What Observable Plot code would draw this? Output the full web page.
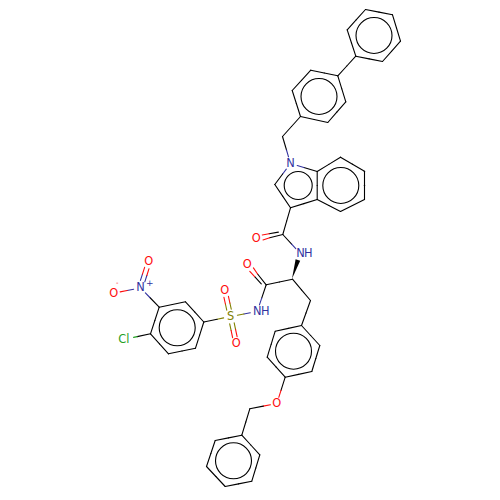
<!DOCTYPE html>
<html>
<head>
<meta charset="utf-8">
<script src="https://cdn.jsdelivr.net/npm/d3@7"></script>
<script src="https://cdn.jsdelivr.net/npm/@observablehq/plot@0.6"></script>
<style>html,body{margin:0;padding:0;background:#fff}svg{display:block}</style>
</head>
<body>
<div id="chart"></div>
<script>
// atom: [id, element, x, y]
const atoms = [
["a1","C",365,9],["a2","C",392,14.3],["a3","C",400,40.7],["a4","C",382,61],["a5","C",355.3,55.7],["a6","C",346.7,29.3],
["b1","C",310.3,69.7],["b2","C",337.3,75.3],["b3","C",345.3,101.3],["b4","C",327.3,122],["b5","C",300,116],["b6","C",291.7,90],
["ch2a","C",282,136],["n1","N",290,163],["c2","C",274.3,184],["c3","C",290,207.3],["c3a","C",316.7,199],["c7a","C",316.7,171],
["c7","C",340,156.7],["c6","C",364,170.7],["c5","C",364,199],["c4","C",340,211],
["cam","C",282.3,234],["oam","O",255.7,238],["nam","N",300,253.3],["ca","C",292,278.7],["cco","C",265.7,284.3],["oco","O",246.7,264.3],
["ch2b","C",310,300],["nsu","N",256.7,311],["s","S",230,316],["os1","O",224.3,290],["os2","O",235.7,343],
["d1","C",203.3,321.5],["d2","C",185,301.3],["d3","C",158.7,306.7],["d4","C",150,333.3],["d5","C",168,353.3],["d6","C",195,347.7],
["nno","N",140,287.3],["ono1","O",148.3,261.3],["ono2","O",113.3,292.7],["cl","Cl",123.3,339],
["e1","C",301,325],["e2","C",319.3,345],["e3","C",311.3,371],["e4","C",284.7,376.7],["e5","C",266.7,356.7],["e6","C",274.7,330.7],
["oet","O",276.3,403],["ch2c","C",249.3,408.3],
["f1","C",241.3,434.7],["f2","C",259.3,454.3],["f3","C",251.3,480.7],["f4","C",224.7,486],["f5","C",206,466],["f6","C",214.7,440]
];
const singleBonds = [
["a1","a2"],["a2","a3"],["a3","a4"],["a4","a5"],["a5","a6"],["a6","a1"],["a5","b2"],
["b1","b2"],["b2","b3"],["b3","b4"],["b4","b5"],["b5","b6"],["b6","b1"],["b5","ch2a"],["ch2a","n1"],
["n1","c2"],["c2","c3"],["c3","c3a"],["c3a","c7a"],["c7a","n1"],["c7a","c7"],["c7","c6"],["c6","c5"],["c5","c4"],["c4","c3a"],
["c3","cam"],["cam","nam"],["ca","cco"],["ca","ch2b"],["cco","nsu"],["nsu","s"],["s","d1"],
["d1","d2"],["d2","d3"],["d3","d4"],["d4","d5"],["d5","d6"],["d6","d1"],["d3","nno"],["nno","ono2"],["d4","cl"],
["ch2b","e1"],["e1","e2"],["e2","e3"],["e3","e4"],["e4","e5"],["e5","e6"],["e6","e1"],["e4","oet"],["oet","ch2c"],["ch2c","f1"],
["f1","f2"],["f2","f3"],["f3","f4"],["f4","f5"],["f5","f6"],["f6","f1"]
];
const doubleBonds = [["s","os1"],["s","os2"],["nno","ono1"]];
// carbonyls: [carbon, oxygen, side of the full-length line]
const carbonylBonds = [["cam","oam",-1],["cco","oco",1]];
const wedgeBonds = [["ca","nam"]];
// aromatic ring circles: [x, y, r]
const ringCircles = [[373.5,35,18],[318.5,96,18],[340.3,185,18],[297.7,185,14],[176.7,327.3,18],[293,350.7,18],[233,460.3,18]];
// text labels: [text, x, y, element]
const labels = [
["N",290,163,"N"],["N",300,253.3,"N"],["H",307.8,253.3,"N"],["O",255.7,238,"O"],["O",246.7,264.3,"O"],
["N",256.7,311,"N"],["H",264.8,311,"N"],["S",230,316,"S"],["O",224.3,290,"O"],["O",235.7,343,"O"],
["N",140,287.3,"N"],["+",149.3,282.5,"N"],["O",148.3,261.3,"O"],["O",113.3,292.7,"O"],["-",116.7,282.5,"O"],
["Cl",123.3,339,"Cl"],["O",276.3,403,"O"]
];
const colors = {C:"#000000",N:"#33339f",O:"#ff0d0d",S:"#808000",Cl:"#1fa01f"};
const gaps = {C:0,N:7,O:6.5,S:7,Cl:10};

const atomBy = new Map(atoms.map(([id,el,x,y]) => [id,{id,el,x,y}]));
function segs(aid,bid,offA,offB=offA,trimA=0){
  const a=atomBy.get(aid), b=atomBy.get(bid);
  const dx=b.x-a.x, dy=b.y-a.y, L=Math.hypot(dx,dy), ux=dx/L, uy=dy/L;
  const at=(t,off)=>({x:a.x+ux*t-uy*off,y:a.y+uy*t+ux*off});
  const s=at(gaps[a.el]+trimA,offA), e=at(L-gaps[b.el],offB), m=at(L/2,(offA+offB)/2);
  return [{x1:s.x,y1:s.y,x2:m.x,y2:m.y,c:colors[a.el]},{x1:m.x,y1:m.y,x2:e.x,y2:e.y,c:colors[b.el]}];
}
const bondSegs = [
  ...singleBonds.flatMap(([a,b])=>segs(a,b,0)),
  ...doubleBonds.flatMap(([a,b])=>[...segs(a,b,-2.3),...segs(a,b,2.3)]),
  ...carbonylBonds.flatMap(([a,b,side])=>[...segs(a,b,0,side*2.4),...segs(a,b,-side*3,-side*2.6,4)])
];
const wedgeRows = wedgeBonds.flatMap(([a,b])=>{
  const A=atomBy.get(a),B=atomBy.get(b);
  const dx=B.x-A.x,dy=B.y-A.y,L=Math.hypot(dx,dy),ux=dx/L,uy=dy/L;
  const ex=B.x-ux*gaps[B.el],ey=B.y-uy*gaps[B.el];
  return [{x1:A.x,y1:A.y,x2:A.x,y2:A.y},{x1:ex-uy*2.4,y1:ey+ux*2.4,x2:ex+uy*2.4,y2:ey-ux*2.4}];
});

const plot = Plot.plot({
  width:500,height:500,margin:0,
  x:{domain:[0,500],range:[0,500],axis:null},
  y:{domain:[0,500],range:[0,500],axis:null},
  r:{type:"identity"},
  style:{background:"#fff"},
  marks:[
    Plot.link(bondSegs,{x1:"x1",y1:"y1",x2:"x2",y2:"y2",stroke:d=>d.c,strokeWidth:1.1,strokeLinecap:"round"}),
    Plot.dot(ringCircles,{x:d=>d[0],y:d=>d[1],r:d=>d[2],stroke:"#000",strokeWidth:1.1,fill:"none"}),
    Plot.area(wedgeRows,{x1:"x1",y1:"y1",x2:"x2",y2:"y2",fill:"#000"}),
    Plot.text(labels,{x:d=>d[1],y:d=>d[2],text:d=>d[0],fill:d=>colors[d[3]],fontSize:d=>d[0]==="+"?9:d[0]==="-"?7:11.4,fontFamily:"DejaVu Sans",textAnchor:"middle",lineAnchor:"middle"})
  ]
});
document.getElementById("chart").append(plot);
</script>
</body>
</html>
